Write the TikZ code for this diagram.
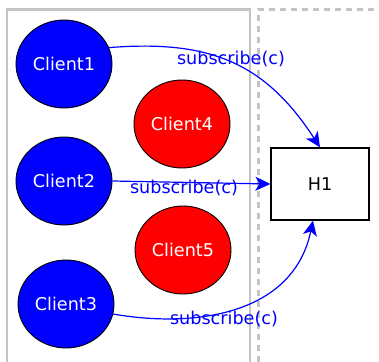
\documentclass[tikz,border=0pt]{standalone}
\usepackage{fontspec}
\setmainfont{DejaVu Sans}
\usetikzlibrary{shapes.geometric,arrows.meta}
\definecolor{framegray}{HTML}{C4C4C4}
\tikzset{
  client/.style={ellipse,draw=black,line width=0.9pt,minimum width=96pt,minimum height=88pt,inner sep=0pt,text=white,font=\fontsize{17.6}{20}\selectfont},
  blueclient/.style={client,fill=blue},
  redclient/.style={client,fill=red},
  hostbox/.style={draw=black,line width=1.2pt,minimum width=98pt,minimum height=72pt,inner sep=0pt,font=\fontsize{17.6}{20}\selectfont},
  msg/.style={draw=blue,line width=1.2pt,-{Stealth[length=15pt,width=14pt,inset=4pt]}},
  msglabel/.style={text=blue,font=\fontsize{17.6}{20}\selectfont,inner sep=0pt},
  frame/.style={draw=framegray,line width=2.5pt},
  dashframe/.style={draw=framegray,line width=3pt,dash pattern=on 6pt off 5pt}
}
\begin{document}
\begin{tikzpicture}[x=1pt,y=-1pt]
\useasboundingbox (0,0) rectangle (379,361);
\draw[frame] (7,362) -- (7,9.5) -- (250,9.5) -- (250,362);
\draw[dashframe] (258,362) -- (258,10) -- (380,10);
\node[blueclient] (c1) at (64,64) {Client1};
\node[blueclient] (c2) at (64,181) {Client2};
\node[blueclient] (c3) at (66,304) {Client3};
\node[redclient] (c4) at (182,124) {Client4};
\node[redclient] (c5) at (183,250) {Client5};
\node[hostbox] (h1) at (320,184) {H1};
\draw[msg] (c1.20) .. controls +(100,-8) and +(-55,-85) .. (h1.north);
\draw[msg] (c2.east) -- (h1.west);
\draw[msg] (c3.-12) .. controls +(80,14) and +(-20,95) .. ([xshift=-7pt]h1.south);
\node[msglabel] (l1) at (231,59) {subscribe(c)};
\node[msglabel] (l2) at (184,188) {subscribe(c)};
\node[msglabel] (l3) at (224,319) {subscribe(c)};
\end{tikzpicture}
\end{document}
